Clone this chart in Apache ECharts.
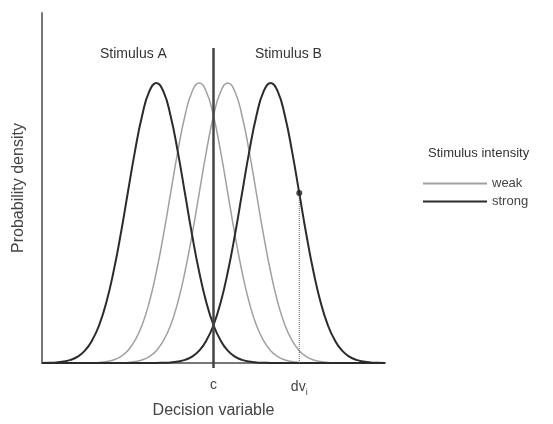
<!DOCTYPE html>
<html>
<head>
<meta charset="utf-8">
<script src="https://cdn.jsdelivr.net/npm/echarts@6/dist/echarts.min.js"></script>
<style>html,body{margin:0;padding:0;background:#fff;}#c{width:553px;height:424px;}</style>
</head>
<body>
<div id="c"></div>
<script>
// Decision variable grid (units of one standard deviation, c = 0), step 0.25 from -6 to 6
const xStart = -6, xStep = 0.25, xCount = 49;
const xs = [];
for (let i = 0; i < xCount; i++) xs.push(xStart + i * xStep);

// Probability density (peak normalised to 1)
const strongA = [0.000,0.001,0.002,0.005,0.011,0.023,0.044,0.080,0.135,0.216,0.325,0.458,0.607,0.755,0.882,0.969,1.000,
  0.969,0.882,0.755,0.607,0.458,0.325,0.216,0.135,0.080,0.044,0.023,0.011,0.005,0.002,0.001,0.000,
  0,0,0,0,0,0,0,0,0,0,0,0,0,0,0,0];
const strongB = [0,0,0,0,0,0,0,0,0,0,0,0,0,0,0,0,
  0.000,0.001,0.002,0.005,0.011,0.023,0.044,0.080,0.135,0.216,0.325,0.458,0.607,0.755,0.882,0.969,1.000,
  0.969,0.882,0.755,0.607,0.458,0.325,0.216,0.135,0.080,0.044,0.023,0.011,0.005,0.002,0.001,0.000];
const weakA = [0,0,0,0,0,0,
  0.000,0.001,0.002,0.005,0.011,0.023,0.044,0.080,0.135,0.216,0.325,0.458,0.607,0.755,0.882,0.969,1.000,
  0.969,0.882,0.755,0.607,0.458,0.325,0.216,0.135,0.080,0.044,0.023,0.011,0.005,0.002,0.001,0.000,
  0,0,0,0,0,0,0,0,0,0];
const weakB = [0,0,0,0,0,0,0,0,0,0,
  0.000,0.001,0.002,0.005,0.011,0.023,0.044,0.080,0.135,0.216,0.325,0.458,0.607,0.755,0.882,0.969,1.000,
  0.969,0.882,0.755,0.607,0.458,0.325,0.216,0.135,0.080,0.044,0.023,0.011,0.005,0.002,0.001,0.000,
  0,0,0,0,0,0];

// Criterion and the sampled decision value
const criterion = 0;
const criterionTop = 1.125;
const dvI = 3;
const dvIDensity = 0.607;

const tickLabels = { 0: 'c', 3: '{a|dv}{b|i}' };
const legendNames = ['weak', 'strong'];

const pairs = ys => xs.map((x, i) => [x, ys[i]]);
const FONT = 'Liberation Sans';
const strongStyle = { color: '#2b2b2b', width: 2 };
const weakStyle = { color: '#a0a0a0', width: 1.5 };

const chart = echarts.init(document.getElementById('c'), null, { renderer: 'canvas' });
chart.setOption({
  animation: false,
  backgroundColor: '#fff',
  textStyle: { fontFamily: FONT },
  grid: { left: 42, right: 168, top: 13, bottom: 59 },
  xAxis: {
    type: 'value', min: -6, max: 6, interval: 3,
    name: 'Decision variable', nameLocation: 'middle', nameGap: 40,
    nameTextStyle: { fontSize: 16, color: '#444', fontFamily: FONT },
    axisLine: { onZero: false, lineStyle: { color: '#777', width: 2 } },
    axisTick: { show: false },
    splitLine: { show: false },
    axisLabel: {
      margin: 15, color: '#444', fontSize: 14, fontFamily: FONT,
      formatter: v => tickLabels[v] || '',
      rich: {
        a: { fontSize: 14, color: '#444', fontFamily: FONT },
        b: { fontSize: 9, color: '#444', fontFamily: FONT, padding: [10, 0, 0, 0] }
      }
    }
  },
  yAxis: {
    type: 'value', min: 0, max: 1.25,
    name: 'Probability density', nameLocation: 'middle', nameGap: 15,
    nameTextStyle: { fontSize: 16, color: '#444', fontFamily: FONT },
    axisLine: { show: true, onZero: false, lineStyle: { color: '#777', width: 2 } },
    axisTick: { show: false }, axisLabel: { show: false }, splitLine: { show: false }
  },
  legend: {
    data: legendNames, orient: 'vertical', left: 418, top: 172,
    icon: 'rect', itemWidth: 64, itemHeight: 2, itemGap: 5,
    textStyle: { fontSize: 13, color: '#444', fontFamily: FONT }
  },
  graphic: [
    { type: 'text', left: 100, top: 47, style: { text: 'Stimulus A', fontSize: 14, fill: '#333', fontFamily: FONT } },
    { type: 'text', left: 255, top: 47, style: { text: 'Stimulus B', fontSize: 14, fill: '#333', fontFamily: FONT } },
    { type: 'text', left: 428, top: 147, style: { text: 'Stimulus intensity', fontSize: 13, fill: '#333', fontFamily: FONT } }
  ],
  series: [
    { name: 'weak', type: 'line', data: pairs(weakA), symbol: 'none', smooth: true, lineStyle: weakStyle, itemStyle: { color: weakStyle.color }, z: 2 },
    { name: 'weak', type: 'line', data: pairs(weakB), symbol: 'none', smooth: true, lineStyle: weakStyle, itemStyle: { color: weakStyle.color }, z: 2 },
    { name: 'strong', type: 'line', data: pairs(strongA), symbol: 'none', smooth: true, lineStyle: strongStyle, itemStyle: { color: strongStyle.color }, z: 3 },
    { name: 'strong', type: 'line', data: pairs(strongB), symbol: 'none', smooth: true, lineStyle: strongStyle, itemStyle: { color: strongStyle.color }, z: 3 },
    { name: 'criterion', type: 'line', data: [[criterion, -0.018], [criterion, criterionTop]], symbol: 'none', clip: false,
      lineStyle: { color: '#444', width: 2.5 }, z: 4 },
    { name: 'dvline', type: 'line', data: [[dvI, 0], [dvI, dvIDensity]], symbol: 'none',
      lineStyle: { color: '#666', width: 1, type: 'dotted' }, z: 4 },
    { name: 'dv', type: 'scatter', data: [[dvI, dvIDensity]], symbolSize: 6, itemStyle: { color: '#222' }, z: 5 }
  ]
});
</script>
</body>
</html>
